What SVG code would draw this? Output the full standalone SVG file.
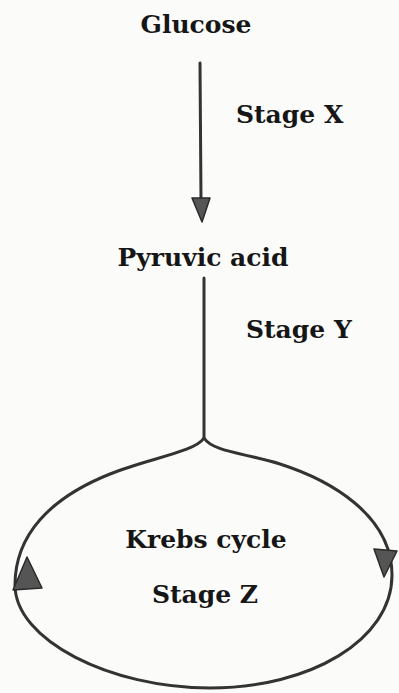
<svg xmlns="http://www.w3.org/2000/svg" width="399" height="693" viewBox="0 0 399 693">
<style>
.t{font-family:"DejaVu Serif","Liberation Serif",serif;font-weight:bold;font-size:25px;fill:#161616}
.c{fill:none;stroke:#333;stroke-width:3;stroke-linecap:round}
.ah{fill:#555;stroke:#2a2a2a;stroke-width:1.5;stroke-linejoin:round}
</style>
<rect width="399" height="693" fill="#fbfbfa"/>
<g id="glucose"><text class="t" x="196" y="33" text-anchor="middle">Glucose</text></g>
<g id="pyruvic"><text class="t" x="203" y="266" text-anchor="middle">Pyruvic acid</text></g>
<g id="krebs"><text class="t" x="206" y="548" text-anchor="middle">Krebs cycle</text><text class="t" x="205" y="603" text-anchor="middle">Stage Z</text></g>
<g id="labels"><text class="t" x="236" y="123">Stage X</text><text class="t" x="246" y="338">Stage Y</text></g>
<g id="connectors">
<line class="c" x1="200" y1="63" x2="201" y2="200"/>
<path class="ah" d="M192,198 L210,198 L202,222 Z"/>
<line class="c" x1="204" y1="278" x2="204" y2="438"/>
<path class="c" d="M204,438 C195,452 150,458 110,474 C50,498 15,535 15,585 C15,640 110,688 210,688 C310,688 392,640 392,575 C392,515 330,480 280,464 C245,453 213,452 204,438"/>
<path class="ah" d="M27,557 L42,588 L13,590 Z"/>
<path class="ah" d="M374,549 L397,551 L384,577 Z"/>
</g>
</svg>
